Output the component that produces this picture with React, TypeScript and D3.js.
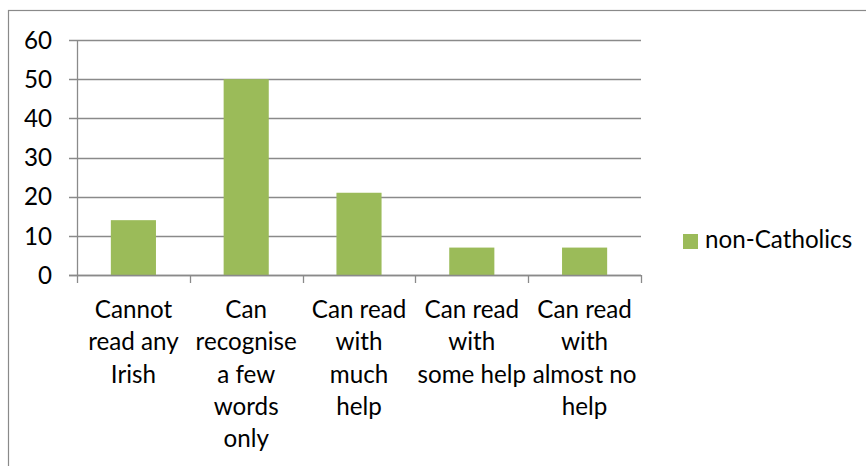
import React from 'react';
import * as d3 from 'd3';

// categories (each label already split on the lines it wraps to)
const categories = [
  'Cannot read any Irish',
  'Can recognise a few words only',
  'Can read with much help',
  'Can read with some help',
  'Can read with almost no help',
];
const categoryLines = [
  ['Cannot', 'read any', 'Irish'],
  ['Can', 'recognise', 'a few', 'words', 'only'],
  ['Can read', 'with', 'much', 'help'],
  ['Can read', 'with', 'some help'],
  ['Can read', 'with', 'almost no', 'help'],
];
const nonCatholics = [14, 50, 21, 7, 7];
const yTicks = [0, 10, 20, 30, 40, 50, 60];
const seriesName = 'non-Catholics';

const W = 866, H = 466;
const FONT = 'Lato, "Open Sans", sans-serif';
const FS = 24.2;
const BAR = '#9bbb59';
const GRID = '#8a8a8a';

export default function App() {
  const x = d3.scaleBand<string>()
    .domain(categories)
    .range([77, 641])
    .paddingInner(0.6)
    .paddingOuter(0.3);
  const y = d3.scaleLinear().domain([0, 60]).range([275, 40]);
  const step = x.step();
  const x0 = 77;

  return (
    <svg width={W} height={H} style={{position: 'absolute', left: 0, top: 0}}
         fontFamily={FONT}>
      <rect x={0} y={0} width={W} height={H} fill="#fff"/>
      {/* chart frame, runs off the right and bottom */}
      <rect x={8.5} y={10.5} width={1000} height={600} fill="none" stroke="#8a8a8a" strokeWidth={1.2}/>

      {/* gridlines + y ticks */}
      {yTicks.map(t => (
        <g key={t}>
          <line x1={69} x2={641} y1={Math.round(y(t)) + 0.5} y2={Math.round(y(t)) + 0.5}
                stroke={GRID} strokeWidth={1.3}/>
          <text x={52} y={y(t)} dy="0.36em" textAnchor="end" fontSize={FS} fill="#000">{t}</text>
        </g>
      ))}
      {/* y axis */}
      <line x1={77.5} x2={77.5} y1={40} y2={283} stroke={GRID} strokeWidth={1.3}/>
      {/* category boundary ticks */}
      {categories.map((c, i) => (
        <line key={c} x1={Math.round(x0 + (i + 1) * step) + 0.5} x2={Math.round(x0 + (i + 1) * step) + 0.5}
              y1={275} y2={283} stroke={GRID} strokeWidth={1.3}/>
      ))}

      {/* bars */}
      {nonCatholics.map((v, i) => (
        <rect key={i} x={x(categories[i])} y={y(v)} width={x.bandwidth()} height={y(0) - y(v)} fill={BAR}/>
      ))}
      <line x1={69} x2={641} y1={275.5} y2={275.5} stroke={GRID} strokeWidth={1.3}/>

      {/* category labels */}
      {categoryLines.map((lines, i) => (
        <text key={i} textAnchor="middle" fontSize={FS} fill="#000">
          {lines.map((ln, j) => (
            <tspan key={j} x={x(categories[i])! + x.bandwidth() / 2} y={318 + j * 32.3}>{ln}</tspan>
          ))}
        </text>
      ))}

      {/* legend */}
      <rect x={683} y={234} width={15} height={15} fill={BAR}/>
      <text x={705} y={248} fontSize={FS} fill="#000">{seriesName}</text>
    </svg>
  );
}
